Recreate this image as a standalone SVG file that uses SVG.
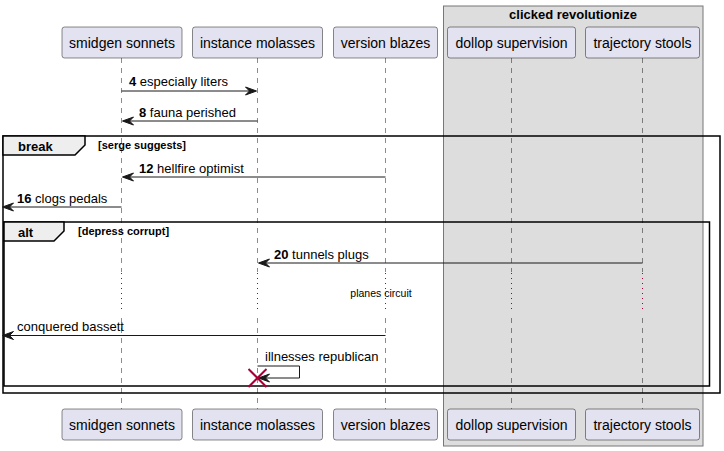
<svg xmlns="http://www.w3.org/2000/svg" width="724" height="451" viewBox="0 0 724 451">
<defs>
<style>
.p rect{fill:#E2E2F0;stroke:#181818;stroke-width:0.5}
.p text{font-family:"Liberation Sans",Arial,sans-serif;font-size:14px;fill:#000;text-anchor:middle}
.life{stroke:#181818;stroke-width:0.5;stroke-dasharray:5,5}
.delay{stroke:#A80036;stroke-width:1;stroke-dasharray:1,4}
.msg{stroke:#181818;stroke-width:1;fill:none}
.ah{fill:#181818;stroke:#181818;stroke-width:1;stroke-linejoin:miter}
.t{font-family:"Liberation Sans",Arial,sans-serif;font-size:13px;fill:#000}
.b{font-weight:bold}
.frame{fill:none;stroke:#000;stroke-width:1.5}
.tab{fill:#EEEEEE;stroke:#000;stroke-width:1.5}
.ft{font-family:"Liberation Sans",Arial,sans-serif;font-size:13px;font-weight:bold;fill:#000}
.fc{font-family:"Liberation Sans",Arial,sans-serif;font-size:11px;font-weight:bold;fill:#000}
</style>
</defs>
<g id="box-clicked-revolutionize">
<rect x="443.5" y="6" width="259.5" height="440" fill="#DDDDDD" stroke="#777" stroke-width="1"/>
<text x="573" y="19" class="ft" text-anchor="middle">clicked revolutionize</text>
</g>
<g id="lifelines">
<line class="life" x1="121.5" y1="58" x2="121.5" y2="409"/>
<line class="life" x1="257.5" y1="58" x2="257.5" y2="409"/>
<line class="life" x1="385.5" y1="58" x2="385.5" y2="409"/>
<line class="life" x1="511.5" y1="58" x2="511.5" y2="409"/>
<line class="life" x1="642.5" y1="58" x2="642.5" y2="409"/>
<rect x="119" y="272" width="5" height="41" fill="#fff"/>
<rect x="255" y="272" width="5" height="41" fill="#fff"/>
<rect x="383" y="272" width="5" height="41" fill="#fff"/>
<rect x="509" y="272" width="5" height="41" fill="#DDDDDD"/>
<rect x="640" y="272" width="5" height="41" fill="#DDDDDD"/>
<line class="delay" x1="121.5" y1="273" x2="121.5" y2="313"/>
<line class="delay" x1="257.5" y1="273" x2="257.5" y2="313"/>
<line class="delay" x1="385.5" y1="273" x2="385.5" y2="313"/>
<line class="delay" x1="511.5" y1="273" x2="511.5" y2="313"/>
<line class="delay" x1="642.5" y1="273" x2="642.5" y2="313"/>
</g>
<g id="p-smidgen-sonnets" class="p">
<rect x="62" y="27" width="120" height="31" rx="2.5"/>
<text x="122" y="48">smidgen sonnets</text>
<rect x="62" y="409" width="120" height="31" rx="2.5"/>
<text x="122" y="430">smidgen sonnets</text>
</g>
<g id="p-instance-molasses" class="p">
<rect x="192.5" y="27" width="130" height="31" rx="2.5"/>
<text x="257.5" y="48">instance molasses</text>
<rect x="192.5" y="409" width="130" height="31" rx="2.5"/>
<text x="257.5" y="430">instance molasses</text>
</g>
<g id="p-version-blazes" class="p">
<rect x="333.5" y="27" width="104" height="31" rx="2.5"/>
<text x="385.5" y="48">version blazes</text>
<rect x="333.5" y="409" width="104" height="31" rx="2.5"/>
<text x="385.5" y="430">version blazes</text>
</g>
<g id="p-dollop-supervision" class="p">
<rect x="447.5" y="27" width="128" height="31" rx="2.5"/>
<text x="511.5" y="48">dollop supervision</text>
<rect x="447.5" y="409" width="128" height="31" rx="2.5"/>
<text x="511.5" y="430">dollop supervision</text>
</g>
<g id="p-trajectory-stools" class="p">
<rect x="585.5" y="27" width="114" height="31" rx="2.5"/>
<text x="642.5" y="48">trajectory stools</text>
<rect x="585.5" y="409" width="114" height="31" rx="2.5"/>
<text x="642.5" y="430">trajectory stools</text>
</g>
<g id="frame-break">
<rect class="frame" x="3" y="136" width="717" height="257"/>
<polygon class="tab" points="3,136 85,136 85,145 75,155 3,155"/>
<text x="18" y="151" class="ft">break</text>
<text x="98" y="149" class="fc">[serge suggests]</text>
</g>
<g id="frame-alt">
<rect class="frame" x="4" y="222" width="705.5" height="164"/>
<polygon class="tab" points="4,222 64,222 64,231 54,241 4,241"/>
<text x="18" y="237" class="ft">alt</text>
<text x="78" y="235" class="fc">[depress corrupt]</text>
</g>
<g id="connectors">
<line class="msg" x1="121.5" y1="91" x2="255" y2="91"/>
<polygon class="ah" points="256.5,91 245.5,87 249.5,91 245.5,95"/>
<text class="t" x="129" y="86"><tspan class="b">4</tspan> especially liters</text>

<line class="msg" x1="257.5" y1="121" x2="124" y2="121"/>
<polygon class="ah" points="122.5,121 133.5,117 129.5,121 133.5,125"/>
<text class="t" x="139" y="117"><tspan class="b">8</tspan> fauna perished</text>

<line class="msg" x1="385.5" y1="177" x2="124" y2="177"/>
<polygon class="ah" points="122.5,177 133.5,173 129.5,177 133.5,181"/>
<text class="t" x="139" y="173"><tspan class="b">12</tspan> hellfire optimist</text>

<line class="msg" x1="121.5" y1="207" x2="4" y2="207"/>
<polygon class="ah" points="2.5,207 13.5,203 9.5,207 13.5,211"/>
<text class="t" x="17" y="203"><tspan class="b">16</tspan> clogs pedals</text>

<line class="msg" x1="642.5" y1="263" x2="260" y2="263"/>
<polygon class="ah" points="258.5,263 269.5,259 265.5,263 269.5,267"/>
<text class="t" x="274" y="259"><tspan class="b">20</tspan> tunnels plugs</text>

<text x="381" y="297" font-family="Liberation Sans,Arial,sans-serif" font-size="10.5" text-anchor="middle">planes circuit</text>

<line class="msg" x1="385.5" y1="335.5" x2="4" y2="335.5"/>
<polygon class="ah" points="2.5,335.5 13.5,331.5 9.5,335.5 13.5,339.5"/>
<text class="t" x="17" y="331">conquered bassett</text>

<polyline class="msg" points="257.5,366 299.5,366 299.5,378 260,378"/>
<polygon class="ah" points="258.5,378 269.5,374 265.5,378 269.5,382"/>
<text class="t" x="265" y="361">illnesses republican</text>
</g>
<g id="destroy">
<line x1="248.5" y1="369" x2="266.5" y2="387" stroke="#A80036" stroke-width="2"/>
<line x1="266.5" y1="369" x2="248.5" y2="387" stroke="#A80036" stroke-width="2"/>
</g>
</svg>
